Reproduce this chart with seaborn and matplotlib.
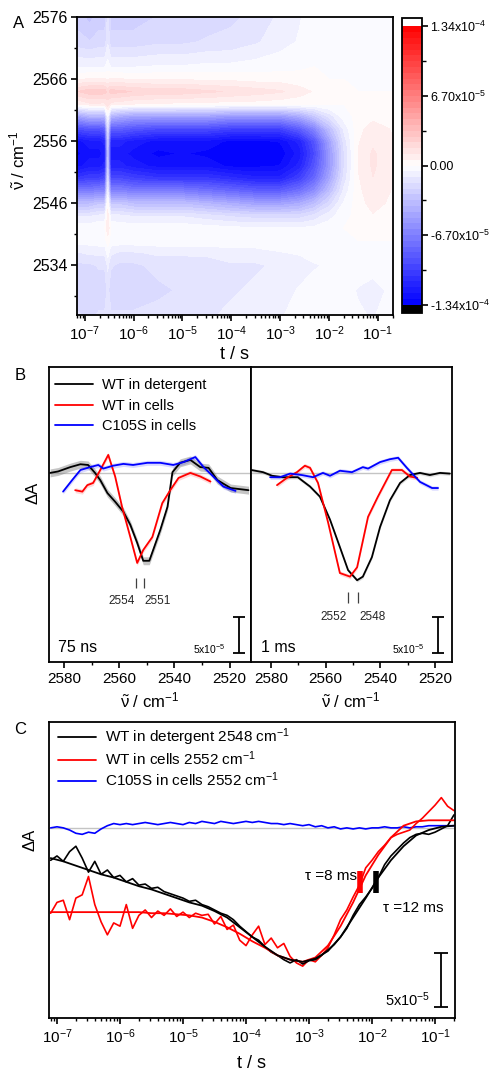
import numpy as np
import matplotlib
matplotlib.use("Agg")
import matplotlib.pyplot as plt
import seaborn as sns
from matplotlib.colors import LinearSegmentedColormap
from matplotlib.ticker import FixedLocator, NullFormatter
from matplotlib.lines import Line2D

# ================= DATA =================
# ---- Panel A: time-resolved difference map (values in 1e-5 absorbance units) ----
A_logt = [-7.16, -6.9, -6.7, -6.59, -6.53, -6.47, -6.3, -6.0, -5.5, -5.0, -4.5, -4.0,
          -3.5, -3.0, -2.6, -2.3, -2.0, -1.7, -1.4, -1.1, -0.69]
A_rows = [0, 4, 8, 10, 12, 14, 16, 18, 20, 22, 24, 26, 28, 30, 32, 34, 36, 38, 40, 44, 48]
A_dA = [
    [-2.5, -3.0, -2.5, -2.5, -1.5, -2.5, -2.5, -2.5, -2.2, -2.0, -2.0, -1.8, -1.5, -1.0, -0.6, -0.3, -0.1, 0.0, 0.0, 0.0, 0.0],
    [-2.0, -2.2, -2.0, -2.0, -1.2, -2.0, -2.0, -2.0, -1.8, -1.8, -1.6, -1.5, -1.2, -0.8, -0.5, -0.3, -0.1, 0.0, 0.0, 0.0, 0.0],
    [-0.6, -0.6, -0.6, -0.6, -0.3, -0.6, -0.6, -0.6, -0.5, -0.5, -0.4, -0.4, -0.3, -0.2, -0.1, 0.0, 0.0, 0.0, 0.0, 0.0, 0.0],
    [0.5, 0.6, 0.6, 0.6, 0.5, 0.6, 0.6, 0.5, 0.5, 0.5, 0.4, 0.4, 0.3, 0.3, 0.2, 0.1, 0.0, 0.0, 0.0, 0.0, 0.0],
    [2.2, 2.6, 2.6, 2.5, 2.0, 2.5, 2.4, 2.2, 2.0, 2.0, 1.8, 1.6, 1.4, 1.2, 0.8, 0.5, 0.3, 0.1, 0.0, 0.0, 0.0],
    [0.6, 1.0, 1.0, 1.0, 1.5, 0.9, 0.8, 0.6, 0.5, 0.4, 0.4, 0.3, 0.3, 0.2, 0.2, 0.1, 0.1, 0.0, 0.1, 0.2, 0.1],
    [-5.0, -4.0, -4.0, -4.0, -0.5, -4.0, -4.5, -5.0, -5.0, -5.0, -5.0, -5.5, -5.5, -5.5, -4.5, -3.0, -1.5, -0.3, 0.2, 0.4, 0.3],
    [-9.5, -9.0, -9.0, -8.5, -2.0, -8.5, -8.5, -9.0, -9.5, -9.5, -9.5, -10.0, -10.0, -10.0, -8.5, -6.5, -3.5, -1.0, 0.4, 0.8, 0.5],
    [-12.5, -12.0, -12.0, -11.5, -3.0, -11.5, -11.5, -12.0, -12.5, -12.5, -12.5, -13.0, -13.0, -12.8, -11.5, -9.0, -5.0, -1.5, 0.5, 1.0, 0.6],
    [-13.0, -12.5, -12.5, -12.0, -3.5, -12.0, -12.0, -12.5, -13.0, -12.8, -13.0, -13.2, -13.2, -13.2, -12.0, -9.5, -5.5, -1.8, 0.6, 1.2, 0.7],
    [-12.5, -12.0, -12.0, -11.5, -3.0, -11.5, -11.5, -12.0, -12.5, -12.5, -12.5, -13.0, -13.0, -12.8, -11.5, -9.0, -5.5, -1.8, 0.6, 1.2, 0.7],
    [-10.5, -10.0, -10.0, -9.5, -2.0, -9.5, -9.5, -10.0, -10.5, -10.5, -10.5, -11.0, -11.5, -11.5, -10.0, -8.0, -4.8, -1.5, 0.5, 1.1, 0.6],
    [-7.0, -7.0, -6.5, -6.5, -1.0, -6.5, -6.5, -7.0, -7.0, -7.0, -7.5, -8.0, -8.5, -8.5, -7.5, -6.0, -3.5, -1.0, 0.4, 1.0, 0.5],
    [-3.5, -3.5, -3.0, -3.0, 0.3, -3.0, -3.0, -3.5, -3.5, -3.5, -4.0, -4.5, -5.0, -5.0, -4.5, -3.5, -2.0, -0.5, 0.3, 0.8, 0.4],
    [-1.2, -1.2, -1.0, -1.0, 0.8, -1.0, -1.0, -1.2, -1.2, -1.2, -1.5, -1.8, -2.0, -2.0, -2.0, -1.5, -0.8, -0.2, 0.2, 0.5, 0.3],
    [-0.2, -0.2, 0.0, 0.0, 1.0, 0.0, -0.2, -0.2, -0.2, -0.2, -0.3, -0.4, -0.5, -0.5, -0.5, -0.4, -0.2, 0.0, 0.1, 0.3, 0.1],
    [-0.3, -0.3, -0.2, -0.2, 0.3, -0.2, -0.2, -0.2, -0.2, -0.2, -0.2, -0.2, -0.2, -0.2, -0.1, -0.1, 0.0, 0.0, 0.0, 0.0, 0.0],
    [-1.2, -1.0, -1.0, -1.0, -0.3, -1.0, -1.2, -1.2, -1.0, -1.0, -1.0, -0.8, -0.8, -0.6, -0.5, -0.4, -0.3, -0.2, -0.2, -0.2, -0.2],
    [-1.8, -1.8, -1.6, -1.6, -1.0, -1.6, -1.8, -1.8, -1.5, -1.5, -1.4, -1.2, -1.2, -1.0, -0.8, -0.6, -0.5, -0.4, -0.3, -0.3, -0.3],
    [-2.0, -2.2, -2.0, -2.0, -1.5, -2.0, -2.0, -2.0, -1.8, -1.6, -1.5, -1.2, -1.0, -0.8, -0.5, -0.4, -0.3, -0.4, -0.6, -0.8, -0.4],
    [-1.6, -1.8, -1.6, -1.6, -1.2, -1.6, -1.6, -1.6, -1.5, -1.4, -1.2, -1.0, -0.8, -0.6, -0.4, -0.3, -0.2, -0.3, -0.5, -0.6, -0.3],
]
A_ytick_rows = [0, 10, 20, 30, 40]
A_ytick_labels = ["2576", "2566", "2556", "2546", "2534"]
A_yminor_rows = [5, 15, 25, 35, 45]
A_xtick_exps = [-7, -6, -5, -4, -3, -2, -1]
cbar_ticks = [-13.4, -6.7, 0.0, 6.7, 13.4]
cbar_minor = [-10.05, -3.35, 3.35, 10.05]
cbar_labels = ["-1.34x10$^{-4}$", "-6.70x10$^{-5}$", "0.00", "6.70x10$^{-5}$", "1.34x10$^{-4}$"]

# ---- Panel B: spectra (wavenumber / cm-1, dA in 1e-5) ----
B75_det_wn = [2585.1, 2582.2, 2577.8, 2574.1, 2571.3, 2568.8, 2566.9, 2564.3, 2561.5, 2558.5, 2556.0, 2553.5, 2551.3,
              2549.1, 2547.7, 2545.1, 2542.5, 2540.7, 2537.9, 2534.2, 2530.6, 2527.6, 2524.4, 2519.6, 2513.1]
B75_det_dA = [0.0, 0.2, 0.8, 1.2, 1.1, 0.0, -1.0, -2.8, -4.0, -5.4, -7.2, -9.7, -12.2,
              -12.2, -10.7, -7.9, -4.7, 0.1, 1.4, 1.8, 0.8, 0.7, -1.0, -2.1, -2.4]
B75_cell_wn = [2576.0, 2573.4, 2571.6, 2569.5, 2566.9, 2564.0, 2561.5, 2559.0, 2556.0, 2553.5, 2551.3, 2548.0,
               2544.4, 2541.5, 2538.5, 2534.2, 2530.6, 2526.9]
B75_cell_dA = [-2.4, -2.6, -1.7, -1.4, 0.4, 2.5, -0.5, -4.7, -8.9, -12.5, -10.7, -8.9, -4.2, -2.4, -0.7, 0.0, -0.5, -1.2]
B75_mut_wn = [2580.4, 2577.1, 2574.1, 2570.6, 2567.6, 2565.8, 2562.2, 2558.5, 2555.0, 2549.8, 2545.1, 2540.4,
              2536.7, 2532.4, 2529.4, 2525.9, 2522.2, 2517.8]
B75_mut_dA = [-2.6, -1.0, 0.4, 0.8, 1.1, 0.6, 1.0, 1.25, 1.1, 1.4, 1.4, 1.1, 1.5, 2.2, 0.8, -0.5, -1.9, -2.5]

B1ms_det_wn = [2587.2, 2582.9, 2579.6, 2575.6, 2570.2, 2565.7, 2562.1, 2558.4, 2554.8, 2551.8, 2548.5, 2546.4,
               2543.1, 2540.1, 2536.5, 2532.8, 2529.2, 2525.5, 2521.9, 2518.2, 2514.6]
B1ms_det_dA = [0.4, 0.1, -0.4, -0.6, -0.6, -1.9, -3.3, -6.5, -10.3, -13.5, -14.9, -14.4, -11.7, -7.5, -3.8, -1.4,
               -0.3, 0.0, -0.3, 0.0, -0.1]
B1ms_cell_wn = [2577.8, 2574.2, 2570.5, 2567.6, 2565.7, 2562.8, 2559.1, 2554.8, 2551.1, 2548.5, 2544.5, 2540.9,
                2535.8, 2532.1, 2529.2, 2526.5]
B1ms_cell_dA = [-1.7, -0.7, 0.1, 1.0, 0.7, -1.4, -6.9, -13.9, -14.4, -13.1, -6.1, -3.3, 0.4, 0.4, -0.5, -0.7]
B1ms_mut_wn = [2580.3, 2576.7, 2573.0, 2568.7, 2564.6, 2561.0, 2558.4, 2554.8, 2550.4, 2546.4, 2544.5, 2540.1,
               2536.5, 2533.5, 2530.3, 2525.5, 2521.1, 2518.9]
B1ms_mut_dA = [-0.6, -0.6, -0.1, -0.3, -0.6, 0.0, -0.4, 0.3, 0.1, 0.8, 0.6, 1.5, 1.9, 2.1, 0.7, -1.25, -2.1, -2.1]

B_peaks_75 = [2554, 2551]
B_peaks_1ms = [2552, 2548]
B_xticks = [2580, 2560, 2540, 2520]
B_xminor = [2570, 2550, 2530]
B_labels = ["WT in detergent", "WT in cells", "C105S in cells"]

# ---- Panel C: kinetics (log10 t / s, dA in 1e-5) ----
C_logt = [-7.1, -7.0, -6.9, -6.8, -6.7, -6.6, -6.5, -6.4, -6.3, -6.2, -6.1, -6.0, -5.9, -5.8, -5.7, -5.6,
          -5.5, -5.4, -5.3, -5.2, -5.1, -5.0, -4.9, -4.8, -4.7, -4.6, -4.5, -4.4, -4.3, -4.2, -4.1, -4.0,
          -3.9, -3.8, -3.7, -3.6, -3.5, -3.4, -3.3, -3.2, -3.1, -3.0, -2.9, -2.8, -2.7, -2.6, -2.5, -2.4,
          -2.3, -2.2, -2.1, -2.0, -1.9, -1.8, -1.7, -1.6, -1.5, -1.4, -1.3, -1.2, -1.1, -1.0, -0.9, -0.8, -0.7]
C_det = [-3.0, -2.6, -3.1, -2.2, -1.7, -2.8, -4.1, -3.1, -4.3, -3.9, -4.6, -4.4, -5.0, -4.7, -5.3, -5.2,
         -5.6, -5.5, -5.9, -6.1, -6.3, -6.5, -6.8, -6.7, -7.1, -7.3, -7.6, -7.9, -8.1, -8.5, -9.1, -9.6,
         -10.1, -10.4, -11.0, -11.5, -11.8, -12.2, -12.5, -12.2, -12.6, -12.3, -12.2, -11.8, -11.3, -10.8, -10.1, -9.3,
         -8.1, -7.1, -6.4, -5.6, -4.6, -3.4, -2.6, -2.0, -1.4, -0.9, -0.6, -0.5, -0.6, -0.4, -0.1, 0.2, 1.2]
C_cell = [-7.9, -6.9, -6.7, -8.5, -6.5, -6.2, -4.5, -7.1, -8.7, -9.9, -8.8, -9.1, -7.1, -9.3, -8.1, -7.6,
          -8.3, -7.7, -8.1, -7.5, -8.2, -7.8, -8.3, -7.9, -8.1, -8.0, -8.9, -8.2, -9.4, -9.0, -10.4, -10.9,
          -9.9, -9.1, -10.8, -10.2, -11.1, -10.7, -11.9, -12.5, -12.8, -12.2, -12.4, -11.8, -11.1, -9.9, -8.5, -7.6,
          -6.4, -5.3, -3.7, -3.0, -2.2, -1.6, -0.9, -0.6, -0.4, -0.2, 0.4, 0.9, 1.5, 2.1, 2.8, 2.0, 1.6]
C_mut = [0.0, 0.1, 0.0, -0.2, -0.5, -0.6, -0.4, -0.5, -0.1, 0.2, 0.4, 0.3, 0.4, 0.3, 0.4, 0.5,
         0.4, 0.3, 0.4, 0.5, 0.4, 0.3, 0.5, 0.4, 0.6, 0.5, 0.4, 0.6, 0.5, 0.4, 0.5, 0.6,
         0.5, 0.6, 0.5, 0.4, 0.4, 0.3, 0.4, 0.3, 0.2, 0.3, 0.1, 0.2, 0.0, 0.1, -0.1, 0.0,
         -0.1, 0.0, -0.1, 0.0, 0.0, 0.1, 0.0, 0.0, 0.1, 0.0, 0.1, 0.1, 0.2, 0.2, 0.2, 0.2, 0.2]
C_fit_logt = [-7.1, -6.9, -6.7, -6.5, -6.3, -6.1, -5.9, -5.7, -5.5, -5.3, -5.1, -4.9, -4.7, -4.5, -4.3, -4.1,
              -3.9, -3.7, -3.5, -3.3, -3.1, -2.9, -2.7, -2.5, -2.3, -2.1, -1.9, -1.7, -1.5, -1.3, -1.1, -0.9, -0.7]
C_det_fit = [-2.8, -3.1, -3.5, -3.9, -4.3, -4.6, -5.0, -5.4, -5.7, -6.1, -6.5, -6.9, -7.2, -7.7, -8.3, -9.2,
             -10.1, -11.0, -11.8, -12.2, -12.4, -12.1, -11.4, -10.1, -8.3, -6.5, -4.6, -3.0, -1.7, -0.7, -0.2, 0.1, 0.2]
C_cell_fit = [-7.8, -7.8, -7.8, -7.8, -7.8, -7.8, -7.8, -7.8, -7.9, -7.9, -8.0, -8.1, -8.3, -8.7, -9.2, -9.8,
              -10.5, -11.1, -11.8, -12.2, -12.4, -12.0, -10.9, -9.1, -6.9, -4.4, -2.5, -0.9, 0.2, 0.6, 0.7, 0.7, 0.7]
C_tau_marker_logt = [-2.19, -1.94]
C_tau_marker_dA = [-5.0, -5.0]
C_tau_text = ["τ =8 ms", "τ =12 ms"]
C_labels = ["WT in detergent 2548 cm$^{-1}$", "WT in cells 2552 cm$^{-1}$", "C105S in cells 2552 cm$^{-1}$"]
scale_bar = 5e-5

# ================= STYLE =================
sns.set_theme(style="ticks")
plt.rcParams.update({
    "font.family": ["Liberation Sans", "DejaVu Sans"],
    "mathtext.fontset": "custom",
    "mathtext.rm": "Liberation Sans",
    "mathtext.it": "Liberation Sans:italic",
    "mathtext.bf": "Liberation Sans:bold",
    "mathtext.sf": "Liberation Sans",
    "axes.edgecolor": "black",
    "axes.linewidth": 1.3,
    "xtick.color": "black", "ytick.color": "black",
    "text.color": "black", "axes.labelcolor": "black",
    "xtick.direction": "out", "ytick.direction": "out",
    "xtick.major.size": 4.5, "ytick.major.size": 4.5,
    "xtick.minor.size": 2.5, "ytick.minor.size": 2.5,
    "xtick.major.width": 1.2, "ytick.major.width": 1.2,
    "xtick.minor.width": 1.0, "ytick.minor.width": 1.0,
    "xtick.minor.visible": False, "ytick.minor.visible": False,
    "xtick.major.pad": 2.5, "ytick.major.pad": 2.5,
})

W, H = 495, 1071
fig = plt.figure(figsize=(W / 100, H / 100), dpi=100)


def box(l, t, r, b):
    return [l / W, 1 - b / H, (r - l) / W, (b - t) / H]


def ftext(x, y, s, **kw):
    fig.text(x / W, 1 - y / H, s, **kw)


nu_label = r"$\mathrm{\tilde{\nu}}$ / cm$^{-1}$"
RED, BLUE, BLACK = "#ff0000", "#0000ff", "#000000"

# ================= PANEL A =================
axA = fig.add_axes(box(77, 17, 393, 315))
cmap = LinearSegmentedColormap.from_list("ref_bwr", [BLUE, "#ffffff", RED])
cmap.set_under("black")
cmap.set_over("white")
levels = np.linspace(-13.4, 13.4, 49)
cf = axA.contourf(np.array(A_logt), np.array(A_rows), np.array(A_dA), levels=levels,
                  cmap=cmap, extend="both")
axA.set_xlim(A_logt[0], A_logt[-1])
axA.set_ylim(A_rows[-1], A_rows[0])
axA.set_xticks(A_xtick_exps)
axA.set_xticklabels([f"10$^{{{e}}}$" for e in A_xtick_exps], fontsize=11)
minor_x = [e + np.log10(k) for e in range(-8, 0) for k in range(2, 10)]
minor_x = [m for m in minor_x if A_logt[0] <= m <= A_logt[-1]]
axA.xaxis.set_minor_locator(FixedLocator(minor_x))
axA.set_yticks(A_ytick_rows)
axA.set_yticklabels(A_ytick_labels, fontsize=11.5)
axA.yaxis.set_minor_locator(FixedLocator(A_yminor_rows))
axA.tick_params(which="both", top=False, right=False)
axA.tick_params(which="minor", bottom=True, left=True)
ftext(235, 355, "t / s", ha="center", va="center", fontsize=13)
ftext(17, 160, nu_label, ha="center", va="center", rotation=90, fontsize=12)
ftext(19, 23, "A", ha="center", va="center", fontsize=12)

cax = fig.add_axes(box(402, 18, 422, 313))
cb = fig.colorbar(cf, cax=cax, extendrect=True, extendfrac=0.03, ticks=cbar_ticks)
cb.ax.set_yticklabels(cbar_labels)
cb.ax.yaxis.set_minor_locator(FixedLocator(cbar_minor))
cb.ax.tick_params(which="both", labelsize=9, direction="out", pad=1)
cb.ax.tick_params(which="minor", right=True, length=3)
cb.outline.set_linewidth(1.3)

# ================= PANEL B =================
axB1 = fig.add_axes(box(49, 367, 251, 662))
axB2 = fig.add_axes(box(251, 367, 452, 662))
B_sets = [
    (axB1, (2585.5, 2512.2),
     [(B75_det_wn, B75_det_dA, BLACK, 0.55, "0.5", 0.45),
      (B75_cell_wn, B75_cell_dA, RED, 0.35, RED, 0.15),
      (B75_mut_wn, B75_mut_dA, BLUE, 0.35, BLUE, 0.15)],
     B_peaks_75, "75 ns", (-1.46e-4, -1.60e-4), -1.78e-4, 2516.7, 2521.5, 2582.2),
    (axB2, (2587.3, 2513.8),
     [(B1ms_det_wn, B1ms_det_dA, BLACK, 0.25, "0.5", 0.25),
      (B1ms_cell_wn, B1ms_cell_dA, RED, 0.3, RED, 0.15),
      (B1ms_mut_wn, B1ms_mut_dA, BLUE, 0.3, BLUE, 0.15)],
     B_peaks_1ms, "1 ms", (-1.65e-4, -1.81e-4), -2.0e-4, 2518.9, 2523.7, 2583.7),
]
for ax, xl, series, peaks, tlabel, (m0, m1), ly, sb_x, sb_tx, t_x in B_sets:
    ax.axhline(0, color="#c4c4c4", lw=1.0, zorder=0)
    for wn, dA, col, hw, bcol, balpha in series:
        x = np.array(wn)
        y = np.array(dA) * 1e-5
        ax.fill_between(x, y - hw * 1e-5, y + hw * 1e-5, color=bcol, alpha=balpha, lw=0, zorder=1)
        sns.lineplot(x=x, y=y, ax=ax, color=col, lw=1.3, estimator=None, sort=False, zorder=2)
    ax.set_xlim(*xl)
    ax.set_ylim(-2.625e-4, 1.47e-4)
    ax.set_yticks([])
    ax.set_xticks(B_xticks)
    ax.set_xticklabels([str(v) for v in B_xticks], fontsize=11)
    ax.xaxis.set_minor_locator(FixedLocator(B_xminor))
    ax.tick_params(which="minor", bottom=True)
    ax.tick_params(which="both", top=False, right=False, left=False)
    ax.set_xlabel("")
    ax.set_ylabel("")
    ax.vlines(peaks, m0, m1, color="0.25", lw=0.9)
    ax.text(peaks[0] + 0.3, ly, str(peaks[0]), ha="right", va="center", fontsize=8.5, color="0.15")
    ax.text(peaks[1] - 0.3, ly, str(peaks[1]), ha="left", va="center", fontsize=8.5, color="0.15")
    ax.errorbar([sb_x], [-2.25e-4], yerr=[[scale_bar / 2], [scale_bar / 2]], color="black",
                capsize=4, lw=1.3, capthick=1.3)
    ax.text(sb_tx, -2.45e-4, "5x10$^{-5}$", ha="right", va="center", fontsize=7.5)
    ax.text(t_x, -2.43e-4, tlabel, ha="left", va="center", fontsize=11.5)
    lg = ax.get_legend()
    if lg is not None:
        lg.remove()

handlesB = [Line2D([], [], color=c, lw=1.3) for c in (BLACK, RED, BLUE)]
axB1.legend(handlesB, B_labels, loc="upper left", bbox_to_anchor=(0.03, 0.962), frameon=False,
            fontsize=10.5, handlelength=2.6, handletextpad=0.6, labelspacing=0.45,
            borderpad=0, borderaxespad=0)
ftext(150, 700, nu_label, ha="center", va="center", fontsize=12)
ftext(351, 700, nu_label, ha="center", va="center", fontsize=12)
ftext(33, 493, "ΔA", ha="center", va="center", rotation=90, fontsize=12)
ftext(20, 375, "B", ha="center", va="center", fontsize=12)

# ================= PANEL C =================
axC = fig.add_axes(box(49, 722, 455, 1018))
axC.set_xscale("log")
axC.axhline(0, color="#c4c4c4", lw=1.0, zorder=0)
t_raw = 10 ** np.array(C_logt)
t_fit = 10 ** np.array(C_fit_logt)
sns.lineplot(x=t_raw, y=np.array(C_mut) * 1e-5, ax=axC, color=BLUE, lw=1.2, estimator=None, sort=False)
sns.lineplot(x=t_raw, y=np.array(C_cell) * 1e-5, ax=axC, color=RED, lw=1.2, estimator=None, sort=False)
sns.lineplot(x=t_raw, y=np.array(C_det) * 1e-5, ax=axC, color=BLACK, lw=1.2, estimator=None, sort=False)
sns.lineplot(x=t_fit, y=np.array(C_cell_fit) * 1e-5, ax=axC, color=RED, lw=1.3, estimator=None, sort=False)
sns.lineplot(x=t_fit, y=np.array(C_det_fit) * 1e-5, ax=axC, color=BLACK, lw=1.3, estimator=None, sort=False)
for lt, y0, col in zip(C_tau_marker_logt, C_tau_marker_dA, (RED, BLACK)):
    axC.vlines(10 ** lt, (y0 - 1.0) * 1e-5, (y0 + 1.0) * 1e-5, color=col, lw=4)
axC.text(10 ** -2.24, -4.5e-5, C_tau_text[0], ha="right", va="center", fontsize=11)
axC.text(10 ** -1.83, -7.4e-5, C_tau_text[1], ha="left", va="center", fontsize=11)
axC.errorbar([10 ** -0.909], [-1.407e-4], yerr=[[scale_bar / 2], [scale_bar / 2]], color="black",
             capsize=5, lw=1.3, capthick=1.3)
axC.text(10 ** -1.08, -1.59e-4, "5x10$^{-5}$", ha="right", va="center", fontsize=10.5)
axC.set_xlim(7.47e-8, 0.2075)
axC.set_ylim(-1.76e-4, 0.98e-4)
axC.set_yticks([])
axC.set_xticks([10.0 ** e for e in A_xtick_exps])
axC.set_xticklabels([f"10$^{{{e}}}$" for e in A_xtick_exps], fontsize=11)
axC.xaxis.set_minor_locator(FixedLocator([k * 10.0 ** e for e in range(-8, 0) for k in range(2, 10)]))
axC.xaxis.set_minor_formatter(NullFormatter())
axC.tick_params(which="minor", bottom=True)
axC.tick_params(which="both", top=False, right=False, left=False)
axC.set_xlabel("")
axC.set_ylabel("")
lg = axC.get_legend()
if lg is not None:
    lg.remove()
handlesC = [Line2D([], [], color=c, lw=1.3) for c in (BLACK, RED, BLUE)]
axC.legend(handlesC, C_labels, loc="upper left", bbox_to_anchor=(0.022, 0.985), frameon=False,
           fontsize=11, handlelength=2.5, handletextpad=0.55, labelspacing=0.12,
           borderpad=0, borderaxespad=0)
ftext(252, 1063, "t / s", ha="center", va="center", fontsize=13)
ftext(30, 840, "ΔA", ha="center", va="center", rotation=90, fontsize=12)
ftext(20, 730, "C", ha="center", va="center", fontsize=12)

fig.savefig("out.png", dpi=100)
